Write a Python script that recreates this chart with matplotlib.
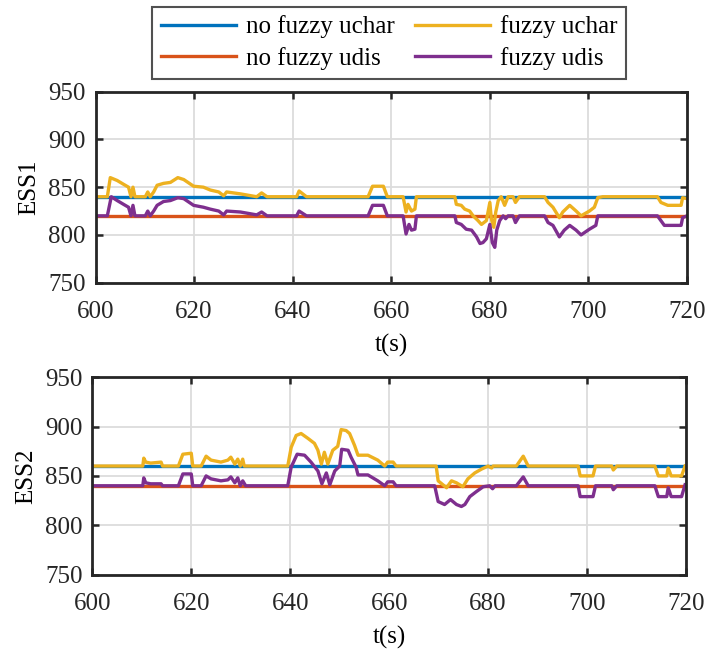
import matplotlib.pyplot as plt
import numpy as np

plt.rcParams['font.family'] = ['Liberation Serif', 'DejaVu Serif']
plt.rcParams['font.size'] = 18

# time span and constant (no fuzzy) references
t_span = [600, 720]
ess1_nofuzzy_char = 840
ess1_nofuzzy_dis = 820
ess2_nofuzzy_char = 860
ess2_nofuzzy_dis = 840

# fuzzy traces as (t, value)
ess1_fuzzy_char = [
    (600, 840), (602.4, 840), (603.0, 860), (604.4, 857), (605.7, 853), (606.7, 850),
    (607.2, 840), (607.6, 850), (608.0, 840), (610.1, 840), (610.6, 845), (611.1, 840),
    (611.8, 845), (612.5, 852), (613.8, 854), (615.2, 855), (616.7, 860), (617.9, 858),
    (619.9, 851), (621.9, 850), (623.3, 847), (625.0, 845), (626.0, 841), (626.6, 845),
    (629.4, 843), (632.7, 840), (633.7, 844), (634.8, 840), (640.8, 840), (641.3, 846),
    (642.8, 840), (655.3, 840), (656.2, 851), (658.4, 851), (659.2, 840), (662.4, 840),
    (663.0, 824), (663.4, 832), (664.1, 825), (664.8, 827), (665.1, 840), (672.9, 840),
    (673.2, 832), (674.2, 831), (674.9, 827), (675.9, 825), (676.6, 820), (677.6, 815),
    (678.3, 811), (679.3, 815), (680.0, 834), (680.3, 817), (680.8, 808), (681.2, 824),
    (681.7, 836), (682.3, 840), (683.0, 831), (683.7, 840), (684.7, 840), (685.2, 834),
    (686.0, 840), (691.1, 840), (691.8, 834), (692.8, 829), (694.1, 818), (694.8, 824),
    (696.2, 831), (697.5, 825), (698.5, 820), (700.2, 825), (701.2, 829), (701.9, 839),
    (702.9, 840), (714.0, 840), (714.7, 834), (716.1, 831), (718.8, 831), (719.1, 839),
    (720, 838),
]
ess1_fuzzy_dis = [
    (600, 820), (602.4, 820), (603.2, 840), (604.4, 836), (605.7, 832), (606.7, 829),
    (607.2, 820), (607.6, 831), (608.0, 820), (610.1, 820), (610.6, 825), (611.1, 820),
    (611.8, 825), (612.5, 831), (613.8, 835), (615.2, 836), (616.7, 839), (617.9, 838),
    (619.9, 831), (621.9, 829), (623.3, 827), (625.0, 825), (626.0, 821), (626.6, 825),
    (629.4, 824), (632.7, 821), (633.7, 824), (634.8, 820), (640.8, 820), (641.3, 825),
    (642.8, 820), (655.3, 820), (656.2, 831), (658.4, 831), (659.2, 820), (662.4, 820),
    (663.0, 801), (663.6, 811), (664.1, 805), (664.8, 806), (665.1, 820), (672.9, 820),
    (673.2, 813), (674.2, 811), (675.2, 806), (676.3, 805), (677.3, 798), (678.0, 791),
    (678.6, 792), (679.3, 796), (680.0, 811), (680.5, 792), (681.0, 787), (681.4, 805),
    (682.0, 815), (682.7, 820), (683.2, 817), (683.7, 820), (684.7, 820), (685.2, 813),
    (686.0, 820), (691.1, 820), (691.8, 813), (692.8, 810), (694.1, 798), (695.1, 805),
    (696.2, 810), (697.5, 805), (698.5, 800), (700.2, 806), (701.5, 810), (701.9, 820),
    (714.0, 820), (714.7, 815), (715.4, 810), (718.8, 810), (719.1, 818), (720, 820),
]
ess2_fuzzy_char = [
    (600, 860), (610.2, 860), (610.4, 868), (610.8, 864), (611.8, 863), (613.9, 864),
    (614.2, 860), (617.4, 860), (618.3, 872), (620.0, 873), (620.3, 860), (622.0, 860),
    (623.0, 870), (624.0, 866), (626.0, 864), (627.4, 866), (628.0, 869), (628.8, 862),
    (629.4, 867), (629.9, 860), (630.4, 867), (630.7, 860), (639.5, 860), (640.2, 879),
    (641.2, 891), (642.2, 893), (643.6, 888), (644.9, 883), (645.6, 876), (646.3, 862),
    (646.9, 874), (647.6, 862), (648.6, 876), (649.6, 880), (650.3, 897), (651.3, 896),
    (652.0, 893), (653.0, 881), (653.7, 871), (655.7, 871), (657.7, 866), (659.1, 860),
    (659.7, 864), (660.8, 864), (661.4, 860), (669.5, 860), (669.9, 845), (671.6, 838),
    (672.6, 845), (673.6, 843), (674.9, 839), (675.9, 847), (677.3, 853), (678.7, 857),
    (680.0, 860), (680.7, 858), (681.0, 860), (685.7, 860), (687.1, 870), (688.1, 860),
    (698.2, 860), (698.6, 850), (701.2, 850), (701.7, 860), (705.0, 860), (705.3, 856),
    (706.0, 860), (713.7, 860), (714.4, 850), (716.1, 850), (716.4, 858), (717.0, 850),
    (719.1, 850), (719.8, 860),
]
ess2_fuzzy_dis = [
    (600, 840), (610.2, 840), (610.4, 848), (610.8, 843), (611.8, 842), (613.9, 842),
    (614.2, 840), (617.4, 840), (618.3, 852), (620.0, 852), (620.3, 840), (622.0, 840),
    (623.0, 850), (624.0, 847), (626.0, 845), (627.4, 846), (628.0, 849), (628.8, 843),
    (629.4, 848), (629.9, 840), (630.4, 845), (631.0, 840), (639.5, 840), (640.2, 859),
    (641.4, 872), (642.9, 871), (644.2, 864), (645.6, 855), (646.4, 842), (647.3, 853),
    (648.0, 841), (649.0, 855), (650.0, 860), (650.4, 877), (651.7, 876), (652.3, 869),
    (653.3, 859), (653.7, 851), (655.7, 851), (657.7, 845), (659.1, 840), (659.7, 844),
    (660.8, 844), (661.4, 840), (669.2, 840), (669.9, 824), (671.2, 821), (672.4, 826),
    (673.6, 821), (674.6, 819), (675.3, 821), (676.3, 829), (677.6, 834), (679.0, 839),
    (680.3, 840), (680.9, 837), (681.4, 840), (685.7, 840), (687.1, 849), (688.1, 840),
    (698.2, 840), (698.6, 829), (701.2, 829), (701.7, 840), (705.0, 840), (705.3, 836),
    (706.0, 840), (713.7, 840), (714.4, 829), (716.1, 829), (716.4, 838), (717.0, 829),
    (719.1, 829), (719.8, 841),
]

labels = ['no fuzzy uchar', 'no fuzzy udis', 'fuzzy uchar', 'fuzzy udis']
colors = ['#0072BD', '#D95319', '#EDB120', '#7E2F8E']

fig = plt.figure(figsize=(7.09, 6.53), dpi=100)
ax1 = fig.add_axes([0.1347, 0.5671, 0.8343, 0.2925])
ax2 = fig.add_axes([0.1302, 0.1202, 0.8374, 0.3020])

panels = [
    (ax1, 'ESS1', ess1_nofuzzy_char, ess1_nofuzzy_dis, ess1_fuzzy_char, ess1_fuzzy_dis),
    (ax2, 'ESS2', ess2_nofuzzy_char, ess2_nofuzzy_dis, ess2_fuzzy_char, ess2_fuzzy_dis),
]

lw = 2.4
for ax, name, nf_char, nf_dis, f_char, f_dis in panels:
    ax.plot(t_span, [nf_char, nf_char], color=colors[0], lw=lw, label=labels[0])
    ax.plot(t_span, [nf_dis, nf_dis], color=colors[1], lw=lw, label=labels[1])
    tc, vc = zip(*f_char)
    td, vd = zip(*f_dis)
    ax.plot(tc, vc, color=colors[2], lw=lw, label=labels[2])
    ax.plot(td, vd, color=colors[3], lw=lw, label=labels[3])
    ax.set_xlim(600, 720)
    ax.set_ylim(750, 950)
    ax.set_xticks(np.arange(600, 721, 20))
    ax.set_yticks(np.arange(750, 951, 50))
    ax.grid(True, color='#dcdcdc', lw=1.3)
    ax.set_axisbelow(True)
    ax.tick_params(direction='in', length=5, width=1.8, top=True, right=True,
                   labelsize=18, pad=7, colors='#262626')
    ax.tick_params(axis='x', pad=13)
    for s in ax.spines.values():
        s.set_linewidth(2.0)
        s.set_color('#262626')
    ax.set_xlabel('t(s)', fontsize=18, labelpad=8)
    ax.set_ylabel(name, fontsize=18, labelpad=6)

handles, labs = ax1.get_legend_handles_labels()
leg = fig.legend(handles, labs, ncol=2, loc='upper center', bbox_to_anchor=(0.5487, 0.99),
                 fontsize=18, frameon=True, fancybox=False, handlelength=3.0,
                 handletextpad=0.4, columnspacing=0.8, labelspacing=0.36,
                 borderpad=0.35, borderaxespad=0)
leg.get_frame().set_edgecolor('#262626')
leg.get_frame().set_linewidth(1.5)

fig.savefig('out.png', dpi=100)
